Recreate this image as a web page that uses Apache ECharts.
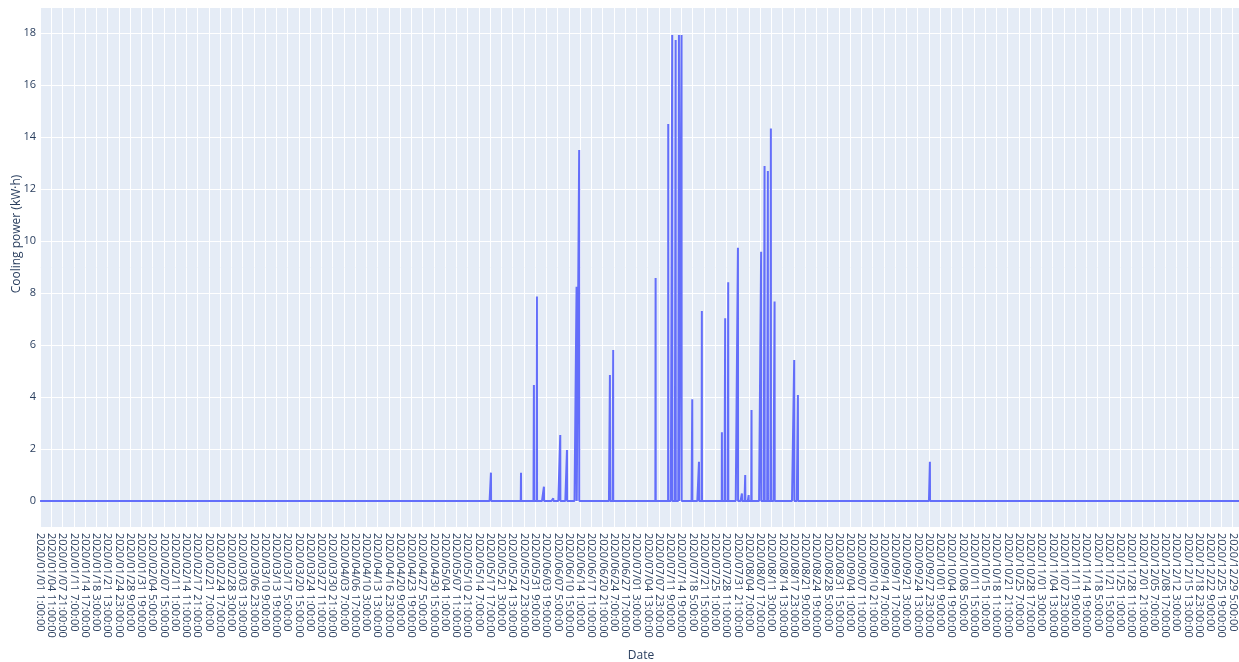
<!DOCTYPE html>
<html>
<head>
<meta charset="utf-8">
<script src="https://cdn.jsdelivr.net/npm/echarts@6/dist/echarts.min.js"></script>
<style>
html,body{margin:0;padding:0;background:#fff;}
#chart{width:1239px;height:662px;}
</style>
</head>
<body>
<div id="chart"></div>
<script>
// Hourly series: 8760 points starting 2020/01/01 1:00:00 (no Feb 29 in the data)
const YEAR = 2020;
const monthDays = [31,28,31,30,31,30,31,31,30,31,30,31];
const hourCount = 8760;

// Non-zero cooling events (all other hours are 0)
const spikeTimes = [
  "2020/05/17 23:00:00","2020/05/27 2:00:00","2020/05/31 0:00:00","2020/05/31 22:00:00",
  "2020/06/03 1:00:00","2020/06/05 21:00:00","2020/06/08 0:00:00","2020/06/10 1:00:00",
  "2020/06/12 23:00:00","2020/06/13 18:00:00","2020/06/23 2:00:00","2020/06/24 2:00:00",
  "2020/07/06 23:00:00","2020/07/10 19:00:00","2020/07/12 0:00:00","2020/07/13 1:00:00",
  "2020/07/14 1:00:00","2020/07/14 20:00:00","2020/07/18 2:00:00","2020/07/20 3:00:00",
  "2020/07/21 0:00:00","2020/07/27 2:00:00","2020/07/28 2:00:00","2020/07/29 0:00:00",
  "2020/07/31 23:00:00","2020/08/02 4:00:00","2020/08/03 4:00:00","2020/08/04 5:00:00",
  "2020/08/05 2:00:00","2020/08/08 0:00:00","2020/08/09 1:00:00","2020/08/10 1:00:00",
  "2020/08/10 23:00:00","2020/08/12 2:00:00","2020/08/18 1:00:00","2020/08/19 4:00:00",
  "2020/09/28 6:00:00"
];
const spikeValues = [
  1.09, 1.09, 4.46, 7.86,
  0.55, 0.10, 2.54, 1.96,
  8.24, 13.5, 4.85, 5.81,
  8.58, 14.5, 17.92, 17.73,
  17.92, 17.92, 3.91, 1.51,
  7.31, 2.64, 7.03, 8.41,
  9.74, 0.29, 1.00, 0.23,
  3.50, 9.59, 12.88, 12.69,
  14.33, 7.67, 5.42, 4.08,
  1.51
];

const yTickValues = [0,2,4,6,8,10,12,14,16,18];
const yAxisTitle = 'Cooling power (kW·h)';
const xAxisTitle = 'Date';

function pad(n){ return (n<10?'0':'')+n; }
function labelFor(idx){
  const t = idx + 1;
  let day = Math.floor(t/24);
  const hour = t % 24;
  let year = YEAR, m = 0;
  while (m < 12 && day >= monthDays[m]) { day -= monthDays[m]; m++; }
  if (m >= 12) { year += 1; m = 0; }
  return year + '/' + pad(m+1) + '/' + pad(day+1) + ' ' + hour + ':00:00';
}

const categories = [];
for (let i = 0; i < hourCount; i++) categories.push(labelFor(i));
const indexOf = {};
categories.forEach((c,i)=>{ indexOf[c] = i; });
const values = new Array(hourCount).fill(0);
spikeTimes.forEach((s,k)=>{ if (indexOf[s] !== undefined) values[indexOf[s]] = spikeValues[k]; });

const chart = echarts.init(document.getElementById('chart'), null, {renderer:'canvas'});
const textColor = '#2a3f5f';
chart.setOption({
  animation: false,
  backgroundColor: '#ffffff',
  textStyle: { fontFamily: 'Open Sans' },
  grid: {
    left: 40, top: 8, width: 1202, height: 519,
    show: true, backgroundColor: '#E5ECF6', borderWidth: 0,
    containLabel: false, outerBoundsMode: 'none'
  },
  graphic: [{
    type: 'text',
    x: 16.5, y: 234,
    rotation: Math.PI / 2,
    silent: true,
    style: {
      text: yAxisTitle, fill: textColor, fontSize: 12, fontFamily: 'Open Sans',
      align: 'center', verticalAlign: 'middle'
    }
  }],
  xAxis: {
    type: 'category',
    data: categories,
    boundaryGap: true,
    name: xAxisTitle,
    nameLocation: 'middle',
    nameGap: 123,
    nameMoveOverlap: false,
    nameTextStyle: { color: textColor, fontSize: 12, fontFamily: 'Open Sans' },
    axisLine: { show: false },
    axisTick: { show: false, interval: 81 },
    axisLabel: {
      interval: 81, rotate: -90, margin: 6, color: textColor,
      fontSize: 11, fontFamily: 'Open Sans', hideOverlap: false
    },
    splitLine: { show: true, interval: 81, lineStyle: { color: '#ffffff', width: 1 } }
  },
  yAxis: {
    type: 'value',
    min: -1, max: 18.96,
    axisLine: { show: false },
    axisTick: { show: false, customValues: yTickValues },
    axisLabel: { customValues: yTickValues, color: textColor, fontSize: 11, margin: 4, fontFamily: 'Open Sans' },
    splitLine: { show: true, lineStyle: { color: '#ffffff', width: 1 } }
  },
  series: [{
    type: 'line',
    data: values,
    showSymbol: false,
    symbol: 'none',
    sampling: null,
    lineStyle: { color: '#636EFA', width: 2 },
    itemStyle: { color: '#636EFA' }
  }]
});
</script>
</body>
</html>
